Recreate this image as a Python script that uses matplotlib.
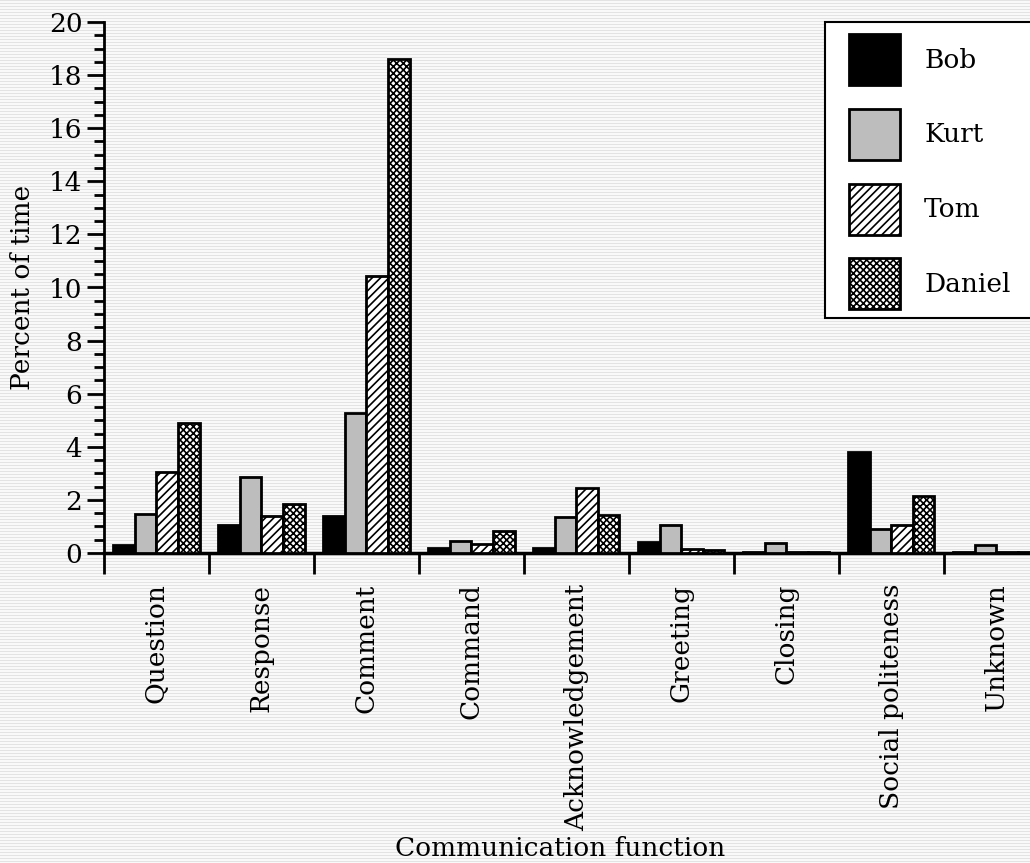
import numpy as np
import matplotlib
matplotlib.use("Agg")
import matplotlib.pyplot as plt
from matplotlib.patches import Rectangle
from matplotlib.ticker import MultipleLocator, FixedLocator

plt.rcParams['font.family'] = ['DejaVu Serif']
plt.rcParams['hatch.linewidth'] = 1.2

categories = ["Question", "Response", "Comment", "Command", "Acknowledgement",
              "Greeting", "Closing", "Social politeness", "Unknown"]
bob = [0.3, 1.05, 1.4, 0.2, 0.2, 0.4, 0.05, 3.8, 0.05]
kurt = [1.47, 2.87, 5.27, 0.45, 1.35, 1.05, 0.39, 0.9, 0.3]
tom = [3.05, 1.39, 10.45, 0.35, 2.45, 0.15, 0.02, 1.05, 0.02]
daniel = [4.9, 1.85, 18.6, 0.82, 1.45, 0.1, 0.02, 2.15, 0.02]

fig = plt.figure(figsize=(10.3, 8.63), dpi=100)

# striped light background
bg = np.full((863, 1030), 0.975)
bg[::3, :] = 0.89
fig.figimage(bg, cmap="gray", vmin=0, vmax=1, zorder=-10)

ax = fig.add_axes([104/1030, 1-553/863, 1-104/1030, (553-22)/863])
ax.set_facecolor("none")
ax.set_zorder(1)

x = np.arange(len(categories))
w = 0.205
styles = [
    ("Bob", bob, dict(color="black", edgecolor="black")),
    ("Kurt", kurt, dict(color="#bdbdbd", edgecolor="black")),
    ("Tom", tom, dict(color="white", edgecolor="black", hatch="////")),
    ("Daniel", daniel, dict(color="white", edgecolor="black", hatch="xxxxx")),
]
handles = []
for i, (name, vals, st) in enumerate(styles):
    b = ax.bar(x + (i - 1.5) * w, vals, w, linewidth=2, label=name, zorder=3, **st)
    handles.append(b)

ax.set_xlim(-0.5, 8.32)
ax.set_ylim(0, 20)
for s in ["top", "right"]:
    ax.spines[s].set_visible(False)
ax.spines["left"].set_linewidth(2)
ax.spines["bottom"].set_linewidth(2.5)

ax.yaxis.set_major_locator(MultipleLocator(2))
ax.yaxis.set_minor_locator(MultipleLocator(0.5))
ax.tick_params(axis="y", which="major", direction="out", length=12, width=2, labelsize=19)
ax.tick_params(axis="y", which="minor", direction="out", length=7, width=2)

ax.xaxis.set_major_locator(FixedLocator(np.arange(len(categories) + 1) - 0.5))
ax.xaxis.set_minor_locator(FixedLocator(x))
ax.set_xticklabels([], minor=False)
ax.set_xticklabels(categories, minor=True, rotation=90, fontsize=19)
ax.tick_params(axis="x", which="major", direction="out", length=15, width=2)
ax.tick_params(axis="x", which="minor", length=0, pad=22)

ax.set_ylabel("Percent of time", fontsize=19, labelpad=10)
fig.text(560/1030, 1-848/863, "Communication function", fontsize=19, ha="center", va="center")

# legend frame (runs past the right edge like the original)
frame = Rectangle((825/1030, 1-318/863), 230/1030, 296/863, transform=fig.transFigure,
                  facecolor="white", edgecolor="black", linewidth=1.5, zorder=4)
fig.add_artist(frame)
leg = fig.legend(handles=handles, loc="upper left", bbox_to_anchor=(849/1030, 1-34/863),
                 fontsize=19, frameon=False, handlelength=1.95, handleheight=2.6,
                 labelspacing=0.9, handletextpad=0.9, borderpad=0, borderaxespad=0)
leg.set_zorder(5)

fig.savefig("out.png", dpi=100)
